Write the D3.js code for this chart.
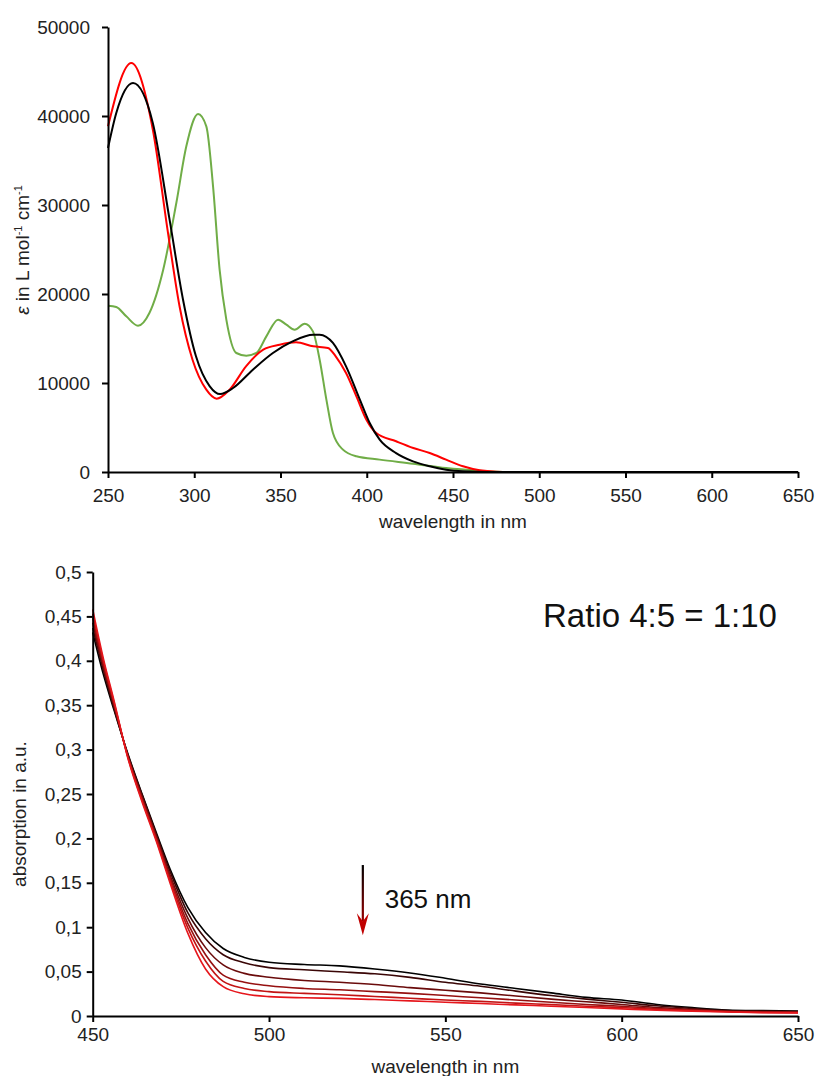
<!DOCTYPE html>
<meta charset="utf-8">
<style>
body { margin: 0; background: #fff; font-family: Arial, "Liberation Sans", sans-serif; }
.axis path, .axis line { stroke: #000; stroke-width: 2; fill: none; }
.axis text { font-size: 19px; fill: #222; font-family: Arial, "Liberation Sans", sans-serif; }
.title { font-size: 19px; fill: #222; text-anchor: middle; }
.spec { fill: none; }
</style>
<body>
<script src="https://d3js.org/d3.v7.min.js"></script>
<script>

// ---- top chart: molar absorptivity spectra ----
var redWl  = [250, 263.5, 276, 284.8, 291.5, 299, 307, 313, 320.5, 330, 340, 349.5, 359, 369, 377.5, 382, 388, 394, 399.8, 405.5, 417, 427, 436.5, 446, 455.8, 465.5, 475, 490, 550, 650];
var redEps = [38840, 45950, 38460, 26850, 18600, 12620, 9250, 8240, 9250, 11870, 13750, 14300, 14570, 14120, 13930, 13000, 11120, 8500, 5880, 4380, 3450, 2700, 2130, 1390, 640, 190, 40, 0, 0, 0];

var blackWl  = [250, 254.8, 264.5, 276, 285.7, 293.5, 301, 309, 315, 322.5, 334, 345.6, 357, 369, 372.7, 380.4, 388, 396, 401.7, 407.5, 417, 426.8, 436.5, 446, 455.8, 470, 550, 650];
var blackEps = [36400, 40340, 43700, 39200, 28350, 19360, 13000, 9630, 8760, 9440, 11500, 13370, 14680, 15430, 15430, 14500, 11870, 8130, 5500, 3630, 2130, 1200, 640, 260, 75, 0, 0, 0];

var greenWl  = [250, 254.8, 260.6, 267.4, 274, 282, 289.6, 295.4, 302.2, 307, 310.9, 314.7, 318.6, 324.4, 330.2, 336, 341.8, 348.6, 353.4, 358.2, 364, 368.8, 372.7, 376.6, 380.4, 386.2, 394, 407.5, 426.8, 446, 465.5, 481, 550, 650];
var greenEps = [18690, 18540, 17490, 16440, 17870, 22730, 30220, 36590, 40220, 38840, 32100, 22730, 17120, 13370, 13070, 13370, 15240, 17120, 16550, 15990, 16670, 15800, 12620, 8130, 4380, 2510, 1760, 1390, 940, 450, 150, 0, 0, 0];

var topXTicks = [250, 300, 350, 400, 450, 500, 550, 600, 650];
var topYTicks = [0, 10000, 20000, 30000, 40000, 50000];

// ---- bottom chart: irradiation series at 365 nm ----
var wl = [450, 453, 456, 460, 464, 468, 472, 477, 482, 487, 493, 500, 510, 520, 530, 540, 550, 560, 570, 580, 590, 600, 610, 620, 630, 640, 650];
var abs1 = [0.432, 0.385, 0.345, 0.295, 0.250, 0.207, 0.165, 0.122, 0.094, 0.076, 0.066, 0.0605, 0.058, 0.0565, 0.053, 0.0485, 0.0425, 0.036, 0.031, 0.026, 0.021, 0.018, 0.013, 0.0095, 0.0068, 0.006, 0.0055];
var abs2 = [0.437, 0.390, 0.347, 0.294, 0.249, 0.205, 0.162, 0.116, 0.087, 0.069, 0.060, 0.0545, 0.052, 0.0498, 0.0475, 0.0435, 0.038, 0.0335, 0.028, 0.023, 0.019, 0.0155, 0.0115, 0.0085, 0.0062, 0.0055, 0.005];
var abs3 = [0.443, 0.393, 0.350, 0.293, 0.247, 0.203, 0.158, 0.110, 0.077, 0.0575, 0.048, 0.0436, 0.040, 0.038, 0.0355, 0.032, 0.029, 0.026, 0.0225, 0.019, 0.016, 0.013, 0.0095, 0.0075, 0.0055, 0.0048, 0.0045];
var abs4 = [0.448, 0.396, 0.352, 0.292, 0.245, 0.201, 0.155, 0.104, 0.069, 0.046, 0.038, 0.034, 0.031, 0.0295, 0.0275, 0.0255, 0.023, 0.0205, 0.018, 0.0155, 0.013, 0.011, 0.0085, 0.0068, 0.005, 0.0043, 0.004];
var abs5 = [0.453, 0.400, 0.354, 0.291, 0.243, 0.199, 0.152, 0.099, 0.062, 0.039, 0.031, 0.0274, 0.0255, 0.024, 0.022, 0.020, 0.018, 0.0165, 0.0145, 0.0128, 0.011, 0.0095, 0.0075, 0.006, 0.0048, 0.004, 0.0038];
var abs6 = [0.458, 0.403, 0.356, 0.290, 0.241, 0.197, 0.149, 0.093, 0.053, 0.033, 0.025, 0.0218, 0.0205, 0.0198, 0.0185, 0.017, 0.0155, 0.014, 0.0125, 0.011, 0.0095, 0.008, 0.0065, 0.0055, 0.0045, 0.0038, 0.0035];
var seriesColors = ["#000000", "#3a0606", "#6a0b0b", "#961010", "#c21414", "#e6161c"];

var botXTicks = [450, 500, 550, 600, 650];
var botYTicks = [0, 0.05, 0.1, 0.15, 0.2, 0.25, 0.3, 0.35, 0.4, 0.45, 0.5];

// annotations (data coordinates)
var arrowWl = 526.6, arrowFrom = 0.170, arrowTo = 0.091;
var arrowLabel = "365 nm", arrowLabelWl = 532.8, arrowLabelVal = 0.1216;
var ratioLabel = "Ratio 4:5 = 1:10", ratioWl = 577.7, ratioVal = 0.438;


var svg = d3.select("body").append("svg")
    .attr("width", 817)
    .attr("height", 1076);

// scales
var xTop = d3.scaleLinear().domain([250, 650]).range([108, 798]);
var yTop = d3.scaleLinear().domain([0, 50000]).range([472, 27]);
var xBot = d3.scaleLinear().domain([450, 650]).range([92.7, 798]);
var yBot = d3.scaleLinear().domain([0, 0.5]).range([1016, 572]);

var comma = d3.formatLocale({decimal: ",", thousands: ".", grouping: [3], currency: ["", ""]});

// ---- top chart ----
var topLine = d3.line()
    .x(function(d) { return xTop(d[0]); })
    .y(function(d) { return yTop(d[1]); })
    .curve(d3.curveMonotoneX);

[[greenWl, greenEps, "#70ad47"], [redWl, redEps, "#ff0000"], [blackWl, blackEps, "#000000"]].forEach(function(s) {
    svg.append("path")
        .attr("class", "spec")
        .attr("d", topLine(d3.zip(s[0], s[1])))
        .style("stroke", s[2])
        .style("stroke-width", 2);
});

svg.append("g")
    .attr("class", "axis")
    .attr("transform", "translate(0," + yTop(0) + ")")
    .call(d3.axisBottom(xTop).tickValues(topXTicks).tickSize(6).tickSizeOuter(0).tickPadding(11));

svg.append("g")
    .attr("class", "axis")
    .attr("transform", "translate(" + xTop(250) + ",0)")
    .call(d3.axisLeft(yTop).tickValues(topYTicks).tickFormat(d3.format("d")).tickSize(6).tickSizeOuter(0).tickPadding(12));

svg.append("text")
    .attr("class", "title")
    .attr("x", (xTop(250) + xTop(650)) / 2)
    .attr("y", 528)
    .text("wavelength in nm");

var yt = svg.append("text")
    .attr("class", "title")
    .attr("font-size", "17.5px")
    .attr("transform", "translate(29,250) rotate(-90)");
yt.append("tspan").attr("font-style", "italic").text("ε");
yt.append("tspan").text(" in L mol");
yt.append("tspan").attr("dy", -7).attr("font-size", "11px").text("-1");
yt.append("tspan").attr("dy", 7).text(" cm");
yt.append("tspan").attr("dy", -7).attr("font-size", "11px").text("-1");

// ---- bottom chart ----
var botLine = d3.line()
    .x(function(d) { return xBot(d[0]); })
    .y(function(d) { return yBot(d[1]); })
    .curve(d3.curveMonotoneX);

[abs1, abs2, abs3, abs4, abs5, abs6].forEach(function(vals, i) {
    svg.append("path")
        .attr("class", "spec")
        .attr("d", botLine(d3.zip(wl, vals)))
        .style("stroke", seriesColors[i])
        .style("stroke-width", 1.6);
});

svg.append("g")
    .attr("class", "axis")
    .attr("transform", "translate(0," + yBot(0) + ")")
    .call(d3.axisBottom(xBot).tickValues(botXTicks).tickSize(6).tickSizeOuter(0).tickPadding(6));

svg.append("g")
    .attr("class", "axis")
    .attr("transform", "translate(" + xBot(450) + ",0)")
    .call(d3.axisLeft(yBot).tickValues(botYTicks).tickFormat(comma.format(".2~f")).tickSize(6).tickSizeOuter(0).tickPadding(5));

svg.append("text")
    .attr("class", "title")
    .attr("x", (xBot(450) + xBot(650)) / 2)
    .attr("y", 1073)
    .text("wavelength in nm");

svg.append("text")
    .attr("class", "title")
    .attr("font-size", "16px")
    .attr("transform", "translate(26,814) rotate(-90)")
    .text("absorption in a.u.");

// arrow with black -> red gradient
var grad = svg.append("defs").append("linearGradient")
    .attr("id", "arrowGrad")
    .attr("gradientUnits", "userSpaceOnUse")
    .attr("x1", 0).attr("x2", 0)
    .attr("y1", yBot(arrowFrom)).attr("y2", yBot(arrowTo));
grad.append("stop").attr("offset", "0%").attr("stop-color", "#000");
grad.append("stop").attr("offset", "100%").attr("stop-color", "#c00000");

var ax = xBot(arrowWl);
svg.append("line")
    .attr("x1", ax).attr("x2", ax)
    .attr("y1", yBot(arrowFrom)).attr("y2", yBot(arrowTo) - 14)
    .style("stroke", "url(#arrowGrad)")
    .style("stroke-width", 2.2);
svg.append("path")
    .attr("d", "M" + (ax - 6) + "," + (yBot(arrowTo) - 22) +
               "L" + ax + "," + (yBot(arrowTo) - 14) +
               "L" + (ax + 6) + "," + (yBot(arrowTo) - 22) +
               "L" + ax + "," + yBot(arrowTo) + "Z")
    .style("fill", "#c00000");

svg.append("text")
    .attr("x", xBot(arrowLabelWl))
    .attr("y", yBot(arrowLabelVal))
    .attr("font-size", "26px")
    .style("fill", "#111")
    .text(arrowLabel);

svg.append("text")
    .attr("x", xBot(ratioWl))
    .attr("y", yBot(ratioVal))
    .attr("font-size", "33px")
    .style("fill", "#111")
    .text(ratioLabel);

</script>
</body>
